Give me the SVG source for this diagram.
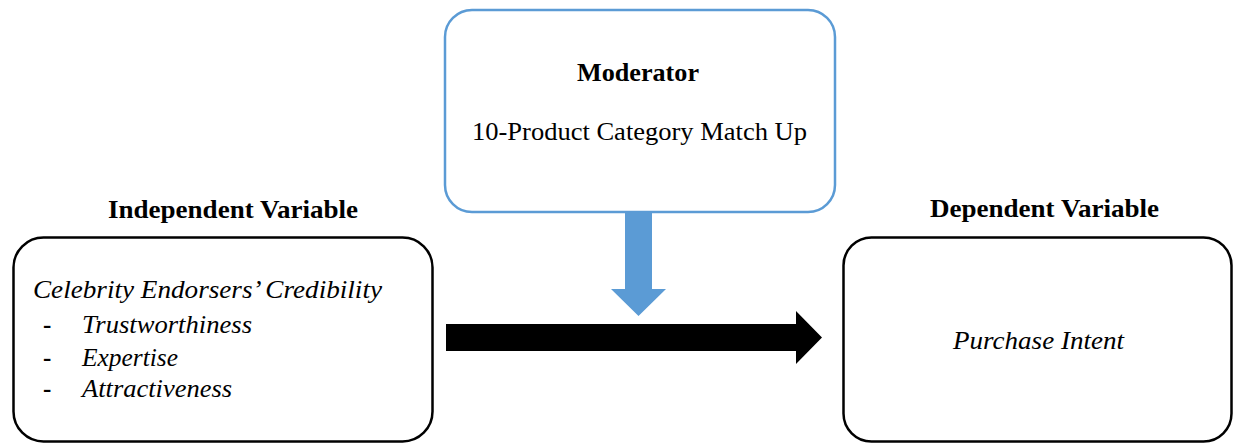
<svg xmlns="http://www.w3.org/2000/svg" width="1234" height="443" viewBox="0 0 1234 443">
<style>
.box{fill:#fff;stroke:#000;stroke-width:2.5}
.mod{fill:#fff;stroke:#5B9BD5;stroke-width:2.5}
.hd{font-family:"Liberation Serif","Times New Roman",serif;font-weight:bold;font-size:25px;fill:#000}
.rg{font-family:"Liberation Serif","Times New Roman",serif;font-size:25px;fill:#000}
.it{font-family:"Liberation Serif","Times New Roman",serif;font-style:italic;font-size:24.5px;fill:#000}
</style>
<rect width="1234" height="443" fill="#fff"/>
<g id="moderator">
<rect class="mod" x="445" y="10" width="390" height="202" rx="27"/>
<text class="hd" x="638" y="81" text-anchor="middle" textLength="122" lengthAdjust="spacingAndGlyphs">Moderator</text>
<text class="rg" x="639.5" y="140" text-anchor="middle" textLength="335" lengthAdjust="spacingAndGlyphs">10-Product Category Match Up</text>
</g>
<g id="independent">
<text class="hd" x="233" y="217.5" text-anchor="middle" textLength="250" lengthAdjust="spacingAndGlyphs">Independent Variable</text>
<rect class="box" x="13.5" y="237.5" width="419" height="204" rx="30"/>
<text class="it" x="33" y="298" textLength="349" lengthAdjust="spacingAndGlyphs">Celebrity Endorsers’ Credibility</text>
<text class="rg" x="43" y="333" font-weight="bold" font-size="20">-</text>
<text class="it" x="82" y="333" textLength="170" lengthAdjust="spacingAndGlyphs">Trustworthiness</text>
<text class="rg" x="43" y="366" font-weight="bold" font-size="20">-</text>
<text class="it" x="82" y="366" textLength="96" lengthAdjust="spacingAndGlyphs">Expertise</text>
<text class="rg" x="43" y="397" font-weight="bold" font-size="20">-</text>
<text class="it" x="82" y="397" textLength="150" lengthAdjust="spacingAndGlyphs">Attractiveness</text>
</g>
<g id="dependent">
<text class="hd" x="1044.5" y="216.5" text-anchor="middle" textLength="229" lengthAdjust="spacingAndGlyphs">Dependent Variable</text>
<rect class="box" x="843.5" y="237.5" width="388" height="204" rx="28"/>
<text class="it" x="1038.5" y="349" text-anchor="middle" textLength="171" lengthAdjust="spacingAndGlyphs">Purchase Intent</text>
</g>
<g id="connectors">
<polygon fill="#5B9BD5" points="625,212 652,212 652,289 666,289 638.5,316 611,289 625,289"/>
<polygon fill="#000" points="446,324 796,324 796,311 822,337.5 796,364 796,351 446,351"/>
</g>
</svg>
